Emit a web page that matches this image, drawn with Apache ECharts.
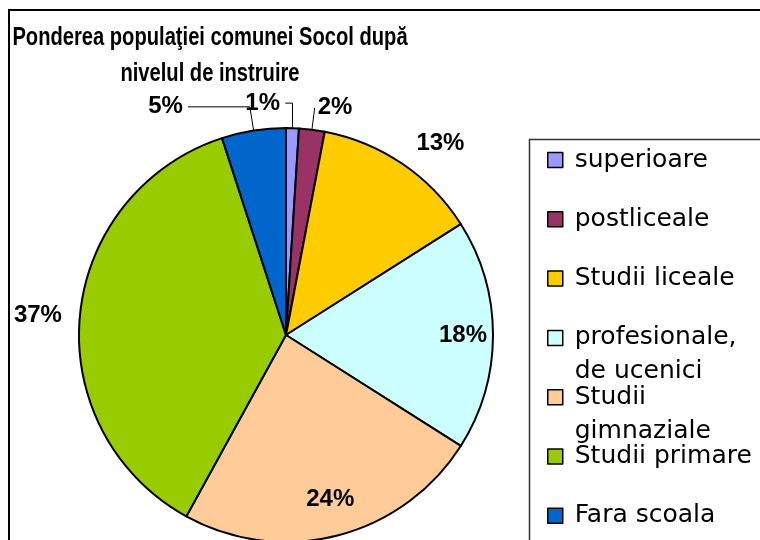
<!DOCTYPE html>
<html>
<head>
<meta charset="utf-8">
<script src="https://cdn.jsdelivr.net/npm/echarts@6/dist/echarts.min.js"></script>
<style>
  html, body { margin: 0; padding: 0; background: #fff; }
  #chart { width: 760px; height: 540px; }
</style>
</head>
<body>
<div id="chart"></div>
<script>
// nivelul de instruire (ponderea in %)
const categories = ['superioare', 'postliceale', 'Studii liceale', 'profesionale, de ucenici', 'Studii gimnaziale', 'Studii primare', 'Fara scoala'];
const legendLabels = ['superioare', 'postliceale', 'Studii liceale', 'profesionale,\nde ucenici', 'Studii\ngimnaziale', 'Studii primare', 'Fara scoala'];
const shares = [1, 2, 13, 18, 24, 37, 5];
const colors = ['#9999ff', '#993366', '#ffcc00', '#ccffff', '#ffcc99', '#99cc00', '#0066cc'];
const titleText = 'Ponderea populaţiei comunei Socol după\nnivelul de instruire';

// label placement, one entry per slice
const labelSetup = [
  { len: 25, len2: -8, dist: 5, line: true, alignTo: 'edge', edge: 480 },
  { len: 22, len2: 0, dist: 3, line: true },
  { len: 25, len2: 0, dist: 0, line: false },
  { len: -59, len2: 0, dist: 5, line: false },
  { len: -37, len2: -22, dist: 0, line: false },
  { len: 5, len2: 8, dist: 5, line: false },
  { len: 24, len2: 62, dist: 5, line: true }
];

const pieData = shares.map((v, i) => {
  const s = labelSetup[i];
  return {
    name: categories[i],
    value: v,
    itemStyle: { color: colors[i] },
    label: { distanceToLabelLine: s.dist, alignTo: s.alignTo || 'none', edgeDistance: s.edge || 0 },
    labelLine: { show: s.line, length: s.len, length2: s.len2 }
  };
});

// one legend block per entry so wrapped entries keep the marker on the first line
const legendFirst = 160, legendStep = 59.3;
const legends = legendLabels.map((lab, i) => {
  const wrapped = lab.indexOf('\n') >= 0;
  return {
    orient: 'vertical',
    left: 547,
    top: legendFirst + legendStep * i - (wrapped ? 51 : 17),
    padding: 0,
    data: [categories[i]],
    icon: 'rect',
    itemWidth: 15,
    itemHeight: 15,
    selectedMode: false,
    formatter: () => (wrapped ? '\n' + lab : lab),
    itemStyle: { borderColor: '#000', borderWidth: 1.5 },
    textStyle: { fontFamily: 'DejaVu Sans', fontSize: 25, lineHeight: 34, color: '#000', padding: [0, 0, 0, 7] }
  };
});

const chart = echarts.init(document.getElementById('chart'));
chart.setOption({
  animation: false,
  backgroundColor: '#fff',
  legend: legends,
  graphic: [
    { type: 'rect', silent: true, shape: { x: 9, y: 10, width: 800, height: 600 }, style: { fill: 'none', stroke: '#000', lineWidth: 2 } },
    { type: 'rect', silent: true, shape: { x: 529.5, y: 139.5, width: 300, height: 450 }, style: { fill: 'none', stroke: '#333', lineWidth: 1.5 } },
    // titlul, ingustat ca in original
    {
      type: 'text', silent: true, x: 210, y: 20, scaleX: 0.775,
      style: {
        text: titleText,
        font: 'bold 26px "Liberation Sans", Arial, sans-serif',
        lineHeight: 36,
        fill: '#000',
        align: 'center',
        verticalAlign: 'top'
      }
    }
  ],
  series: [{
    type: 'pie',
    center: [286, 335],
    radius: 207,
    startAngle: 90,
    clockwise: true,
    avoidLabelOverlap: false,
    silent: true,
    itemStyle: { borderColor: '#000', borderWidth: 2 },
    label: {
      show: true,
      position: 'outside',
      formatter: '{c}%',
      fontFamily: '"Liberation Sans", Arial, sans-serif',
      fontWeight: 'bold',
      fontSize: 24,
      color: '#000'
    },
    labelLine: { smooth: false, lineStyle: { color: '#000', width: 1 } },
    data: pieData
  }]
});
</script>
</body>
</html>
